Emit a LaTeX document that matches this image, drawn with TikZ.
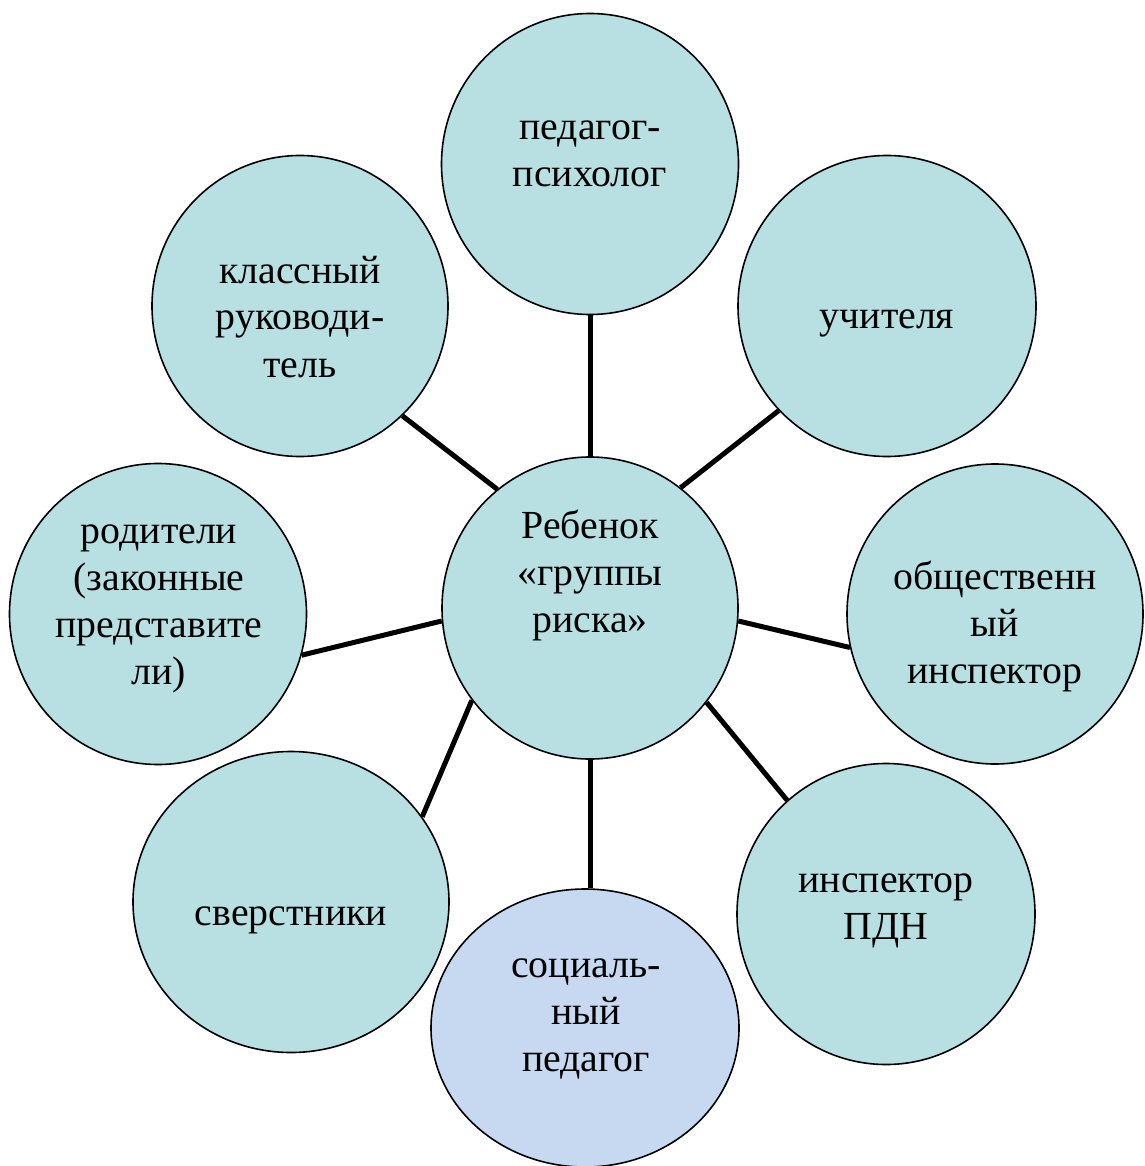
\documentclass[tikz,border=0pt]{standalone}
\usepackage{fontspec}
\setmainfont{Liberation Serif}
\usetikzlibrary{shapes.geometric}
\definecolor{aquafill}{HTML}{B8DFE2}
\definecolor{bluefill}{HTML}{C6D9F0}
\newcommand\bubtext[1]{\parbox[t]{330pt}{\centering #1}}
\begin{document}
\begin{tikzpicture}[x=1pt,y=-1pt,
  bubble/.style={ellipse, draw=black, line width=1.6pt, fill=aquafill, inner sep=0pt},
  link/.style={line width=5pt, black},
  lbl/.style={anchor=base, inner sep=0pt, font=\fontsize{39.8}{47}\selectfont}]
\clip (0,0) rectangle (1144,1166);
% circles
\node[bubble, minimum width=296pt, minimum height=302pt] (c) at (590,608) {};
\node[bubble, minimum width=297pt, minimum height=301pt] (psy) at (590,164) {};
\node[bubble, minimum width=298pt, minimum height=301pt] (uch) at (887,306) {};
\node[bubble, minimum width=296pt, minimum height=300pt] (obs) at (995,614) {};
\node[bubble, minimum width=298pt, minimum height=301pt] (pdn) at (886,914) {};
\node[bubble, fill=bluefill, minimum width=308pt, minimum height=278pt] (soc) at (585,1028) {};
\node[bubble, minimum width=316pt, minimum height=301pt] (sve) at (291,902) {};
\node[bubble, minimum width=297pt, minimum height=301pt] (rod) at (158,614) {};
\node[bubble, minimum width=296pt, minimum height=301pt] (kla) at (300,306) {};
% connectors
\draw[link] (c.90) -- (psy.270);
\draw[link] (c.53.4) -- (uch.224.2);
\draw[link] (c.128.2) -- (kla.313.4);
\draw[link] (c.355.4) -- (obs.193.5);
\draw[link] (c.185.4) -- (rod.344.4);
\draw[link] (c.218.8) -- (sve.33.6);
\draw[link] (c.321.2) -- (pdn.131.5);
\draw[link] (c.south) -- (c.south |- soc.north);
% texts
\node[lbl] (tc) at (590,538) {\bubtext{Ребенок\\«группы\\риска»}};
\node[lbl] (tpsy) at (590,140) {\bubtext{педагог-\\психолог}};
\node[lbl] (tuch) at (887,328) {\bubtext{учителя}};
\node[lbl] (tobs) at (995,589) {\bubtext{общественн\\ый\\инспектор}};
\node[lbl] (tpdn) at (886,892) {\bubtext{инспектор\\ПДН}};
\node[lbl] (tsoc) at (586,977) {\bubtext{социаль-\\ный\\педагог}};
\node[lbl] (tsve) at (291,925) {\bubtext{сверстники}};
\node[lbl] (trod) at (159,543) {\bubtext{родители\\(законные\\представите\\ли)}};
\node[lbl] (tkla) at (300,283) {\bubtext{классный\\руководи-\\тель}};
\end{tikzpicture}
\end{document}
